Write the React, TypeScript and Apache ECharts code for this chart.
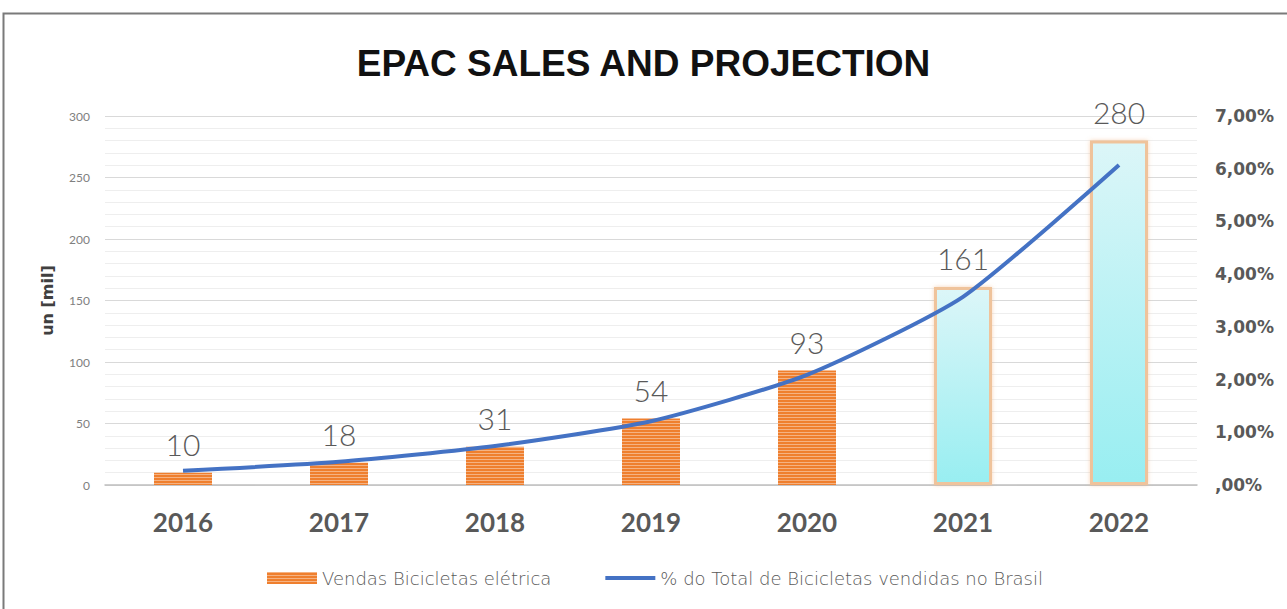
import React, { useEffect, useRef } from "react";
import * as echarts from "echarts";

const years = ["2016", "2017", "2018", "2019", "2020", "2021", "2022"];
const sales = [10, 18, 31, 54, 93, 161, 280];
const sharePct = [0.27, 0.44, 0.74, 1.21, 2.09, 3.57, 6.07];
const projectedFrom = 5; // index of first projected year
const titleText = "EPAC SALES AND PROJECTION";
const barName = "Vendas Bicicletas elétrica";
const lineName = "% do Total de Bicicletas vendidas no Brasil";
const leftAxisName = "un [mil]";

export default function App() {
  const ref = useRef<HTMLDivElement>(null);
  useEffect(() => {
    document.body.style.margin = "0";
    const chart = echarts.init(ref.current!, null, { renderer: "svg" });
    const stripe = {
      symbol: "rect",
      symbolSize: 1,
      dashArrayX: [1, 0],
      dashArrayY: [1, 2],
      rotation: 0,
      color: "rgba(255,255,255,0.4)",
    };
    const barData = sales.map((v, i) =>
      i < projectedFrom
        ? {
            value: v,
            itemStyle: { color: "#ef7f2e", decal: stripe },
          }
        : {
            value: v,
            itemStyle: {
              color: new echarts.graphic.LinearGradient(0, 0, 0, 1, [
                { offset: 0, color: "#dcf6f8" },
                { offset: 1, color: "#98eef1" },
              ]),
              borderColor: "#efc39b",
              borderWidth: 3,
              shadowColor: "rgba(240,170,110,0.5)",
              shadowBlur: 4,
            },
          }
    );
    chart.setOption({
      animation: false,
      backgroundColor: "#ffffff",
      title: {
        text: titleText,
        left: "center",
        top: 40,
        textStyle: {
          fontFamily: "Liberation Sans",
          fontWeight: "bold",
          fontSize: 37,
          color: "#111111",
        },
      },
      graphic: [
        {
          type: "rect",
          silent: true,
          shape: { x: 3.5, y: 13.5, width: 1320, height: 700 },
          style: { fill: "none", stroke: "#7a7a7a", lineWidth: 2 },
        },
      ],
      legend: {
        bottom: 17,
        left: 262,
        itemWidth: 50,
        itemHeight: 12,
        itemGap: 54,
        textStyle: {
          fontFamily: "DejaVu Sans",
          fontWeight: 200,
          fontSize: 18,
          color: "#595959",
        },
        data: [
          { name: barName, icon: "rect", itemStyle: { color: "#ef7f2e", decal: stripe } },
          {
            name: lineName,
            icon: "path://M0,0 L50,0 L50,4 L0,4 Z",
            itemStyle: { color: "#4472c4" },
          },
        ],
      },
      grid: { left: 105, right: 90, top: 116, bottom: 124 },
      xAxis: {
        type: "category",
        data: years,
        axisLine: { lineStyle: { color: "#bfbfbf", width: 1.5 } },
        axisTick: { show: false },
        axisLabel: {
          margin: 24,
          fontFamily: "Lato",
          fontWeight: "bold",
          fontSize: 26,
          color: "#595959",
        },
      },
      yAxis: [
        {
          type: "value",
          min: 0,
          max: 300,
          interval: 50,
          name: leftAxisName,
          nameLocation: "middle",
          nameGap: 50,
          nameTextStyle: {
            fontFamily: "DejaVu Sans",
            fontWeight: "bold",
            fontSize: 16,
            color: "#404040",
          },
          axisLine: { show: false },
          axisTick: { show: false },
          axisLabel: {
            margin: 15,
            fontFamily: "Lato",
            fontSize: 12,
            color: "#808080",
          },
          splitLine: { lineStyle: { color: "#d9d9d9", width: 1 } },
          minorTick: { show: false, splitNumber: 5 },
          minorSplitLine: { show: true, lineStyle: { color: "#eeeeee", width: 1 } },
        },
        {
          type: "value",
          min: 0,
          max: 7,
          interval: 1,
          position: "right",
          axisLine: { show: false },
          axisTick: { show: false },
          splitLine: { show: false },
          axisLabel: {
            margin: 18,
            fontFamily: "DejaVu Sans",
            fontWeight: "bold",
            fontSize: 17,
            color: "#595959",
            formatter: (v: number) =>
              v === 0 ? ",00%" : v.toFixed(2).replace(".", ",") + "%",
          },
        },
      ],
      series: [
        {
          name: barName,
          type: "bar",
          barWidth: 58,
          data: barData,
          itemStyle: { color: "#ef7f2e" },
          label: {
            show: true,
            position: "top",
            distance: 14,
            fontFamily: "Lato",
            fontWeight: 300,
            fontSize: 30,
            color: "#595959",
          },
        },
        {
          name: lineName,
          type: "line",
          yAxisIndex: 1,
          data: sharePct,
          smooth: 0.2,
          symbol: "none",
          showSymbol: false,
          lineStyle: { color: "#4472c4", width: 4 },
          itemStyle: { color: "#4472c4" },
          z: 5,
        },
      ],
    });
    return () => chart.dispose();
  }, []);
  return <div ref={ref} style={{ width: 1287, height: 609 }} />;
}
